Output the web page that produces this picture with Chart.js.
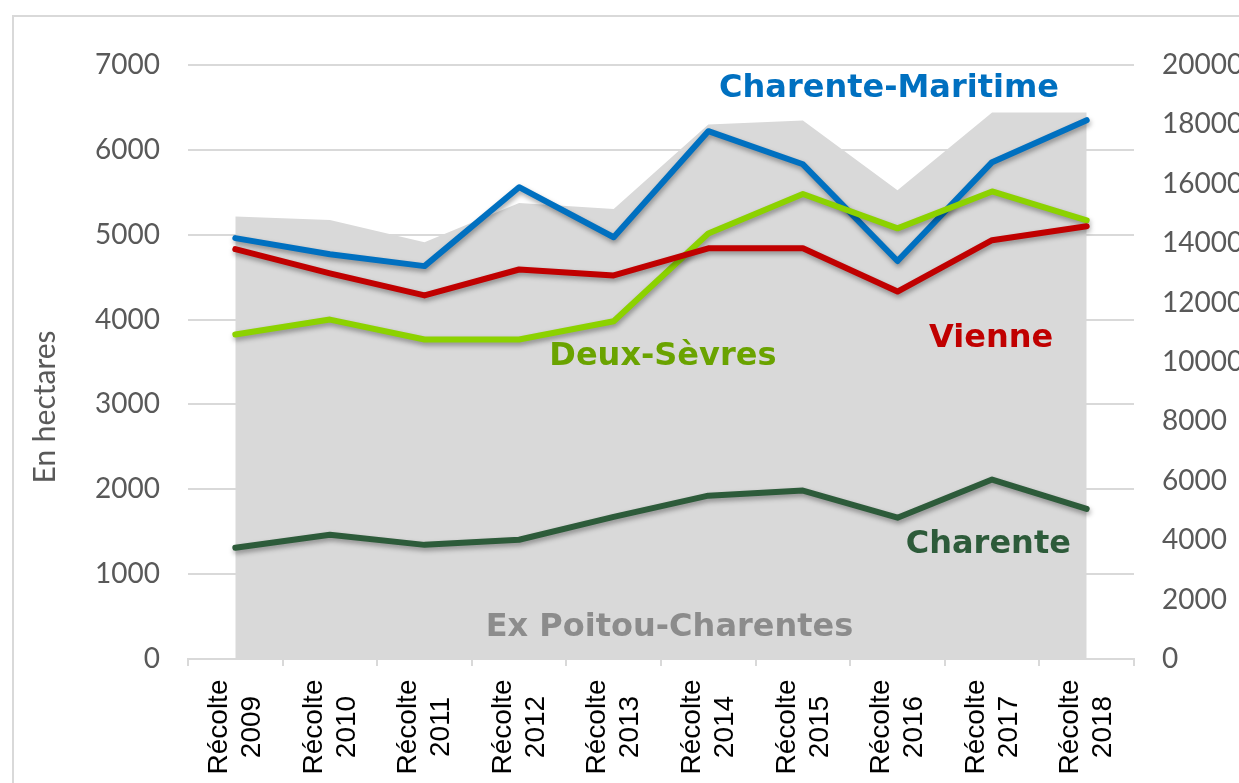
<!DOCTYPE html>
<html>
<head>
<meta charset="utf-8">
<script src="https://cdn.jsdelivr.net/npm/chart.js@4.4.0/dist/chart.umd.min.js"></script>
<style>
    html, body { margin: 0; padding: 0; background: #fff; overflow: hidden; }
    #frame { position: absolute; left: 12px; top: 15px; width: 1400px; height: 900px; border: 2px solid #d9d9d9; }
    #wrap { position: absolute; left: 0; top: 0; width: 1300px; height: 850px; }
</style>
</head>
<body>
<div id="frame"></div>
<div id="wrap"><canvas id="chart" width="1300" height="850"></canvas></div>
<script>
// Data (hectares)
const years = ['2009', '2010', '2011', '2012', '2013', '2014', '2015', '2016', '2017', '2018'];
const charente = [1310, 1465, 1345, 1405, 1675, 1925, 1985, 1665, 2115, 1770];
const charenteMaritime = [4960, 4770, 4630, 5560, 4970, 6220, 5830, 4690, 5855, 6350];
const deuxSevres = [3825, 4000, 3765, 3765, 3980, 5015, 5480, 5075, 5510, 5170];
const vienne = [4830, 4545, 4285, 4590, 4520, 4840, 4840, 4330, 4935, 5100];
// Ex Poitou-Charentes total (right axis)
const totalPC = [14900, 14780, 14030, 15350, 15150, 18000, 18130, 15780, 18400, 18400];

const leftMax = 7000, leftStep = 1000;
const rightMax = 20000, rightStep = 2000;

// Series labels placed in chart coordinates (category index, left-axis value)
const seriesLabels = [
    { text: 'Charente-Maritime', x: 6.91, y: 6720, color: '#0070c0' },
    { text: 'Vienne', x: 7.99, y: 3780, color: '#c00000' },
    { text: 'Deux-Sèvres', x: 4.52, y: 3565, color: '#6aa300' },
    { text: 'Charente', x: 7.96, y: 1345, color: '#2d5b3a' },
    { text: 'Ex Poitou-Charentes', x: 4.59, y: 365, color: '#8c8c8c' }
];

const tickColor = '#595959';
const gridColor = '#d9d9d9';

// soft drop shadow under the lines
const shadowPlugin = {
    id: 'lineShadow',
    beforeDatasetDraw(chart, args) {
        const ctx = chart.ctx;
        ctx.save();
        if (args.meta.yAxisID === 'y') {
            ctx.shadowColor = 'rgba(0, 0, 0, 0.35)';
            ctx.shadowBlur = 5;
            ctx.shadowOffsetX = 1;
            ctx.shadowOffsetY = 3;
        }
    },
    afterDatasetDraw(chart) {
        chart.ctx.restore();
    }
};

// rotated, centred two-line category labels + axis title + series names
const textPlugin = {
    id: 'texts',
    afterDraw(chart) {
        const ctx = chart.ctx;
        const sx = chart.scales.x;
        const sy = chart.scales.y;
        const area = chart.chartArea;
        ctx.save();

        ctx.font = '28px "Liberation Sans", Arial, sans-serif';
        ctx.fillStyle = '#000';
        ctx.textAlign = 'center';
        ctx.textBaseline = 'middle';
        years.forEach((yr, i) => {
            ctx.save();
            ctx.translate(sx.getPixelForTick(i), sx.top + 68);
            ctx.rotate(-Math.PI / 2);
            ctx.fillText('Récolte', 0, -16);
            ctx.fillText(yr, 0, 17);
            ctx.restore();
        });

        ctx.save();
        ctx.font = '30px Lato, sans-serif';
        ctx.fillStyle = tickColor;
        ctx.translate(45, (area.top + area.bottom) / 2 + 45);
        ctx.rotate(-Math.PI / 2);
        ctx.fillText('En hectares', 0, 0);
        ctx.restore();

        ctx.font = 'bold 32px "DejaVu Sans", sans-serif';
        seriesLabels.forEach(l => {
            ctx.fillStyle = l.color;
            ctx.fillText(l.text, sx.getPixelForValue(l.x), sy.getPixelForValue(l.y));
        });
        ctx.restore();
    }
};

function lineSet(label, data, color, order) {
    return {
        label: label,
        data: data,
        yAxisID: 'y',
        borderColor: color,
        borderWidth: 6,
        pointRadius: 0,
        tension: 0,
        fill: false,
        order: order,
        borderJoinStyle: 'round',
        borderCapStyle: 'round'
    };
}

const plainNumber = v => String(v);

const ctx = document.getElementById('chart');
new Chart(ctx, {
    type: 'line',
    data: {
        labels: years.map(y => ['Récolte', y]),
        datasets: [
            {
                label: 'Ex Poitou-Charentes',
                data: totalPC,
                yAxisID: 'y1',
                backgroundColor: '#d9d9d9',
                borderColor: '#d9d9d9',
                borderWidth: 0,
                pointRadius: 0,
                tension: 0,
                fill: 'origin',
                order: 10
            },
            lineSet('Charente', charente, '#2d5b3a', 4),
            lineSet('Charente-Maritime', charenteMaritime, '#0070c0', 3),
            lineSet('Deux-Sèvres', deuxSevres, '#8cd200', 2),
            lineSet('Vienne', vienne, '#c00000', 1)
        ]
    },
    options: {
        responsive: false,
        animation: false,
        layout: { padding: { top: 65, left: 0, right: 0, bottom: 0 } },
        plugins: {
            legend: { display: false },
            tooltip: { enabled: false }
        },
        scales: {
            x: {
                offset: true,
                afterFit: s => { s.height = 191; },
                grid: {
                    offset: true,
                    drawOnChartArea: false,
                    drawTicks: true,
                    tickLength: 7,
                    color: gridColor,
                    lineWidth: 2
                },
                border: { display: true, color: gridColor, width: 2 },
                ticks: { display: false }
            },
            y: {
                position: 'left',
                min: 0,
                max: leftMax,
                afterFit: s => { s.width = 188; },
                grid: { color: gridColor, lineWidth: 2, drawTicks: false },
                border: { display: false },
                ticks: {
                    stepSize: leftStep,
                    padding: 28,
                    color: tickColor,
                    font: { family: 'Lato', size: 28 },
                    callback: plainNumber
                }
            },
            y1: {
                position: 'right',
                min: 0,
                max: rightMax,
                afterFit: s => { s.width = 166; },
                grid: { drawOnChartArea: false, drawTicks: false },
                border: { display: false },
                ticks: {
                    stepSize: rightStep,
                    padding: 28,
                    color: tickColor,
                    font: { family: 'Lato', size: 28 },
                    callback: plainNumber
                }
            }
        }
    },
    plugins: [shadowPlugin, textPlugin]
});
</script>
</body>
</html>
